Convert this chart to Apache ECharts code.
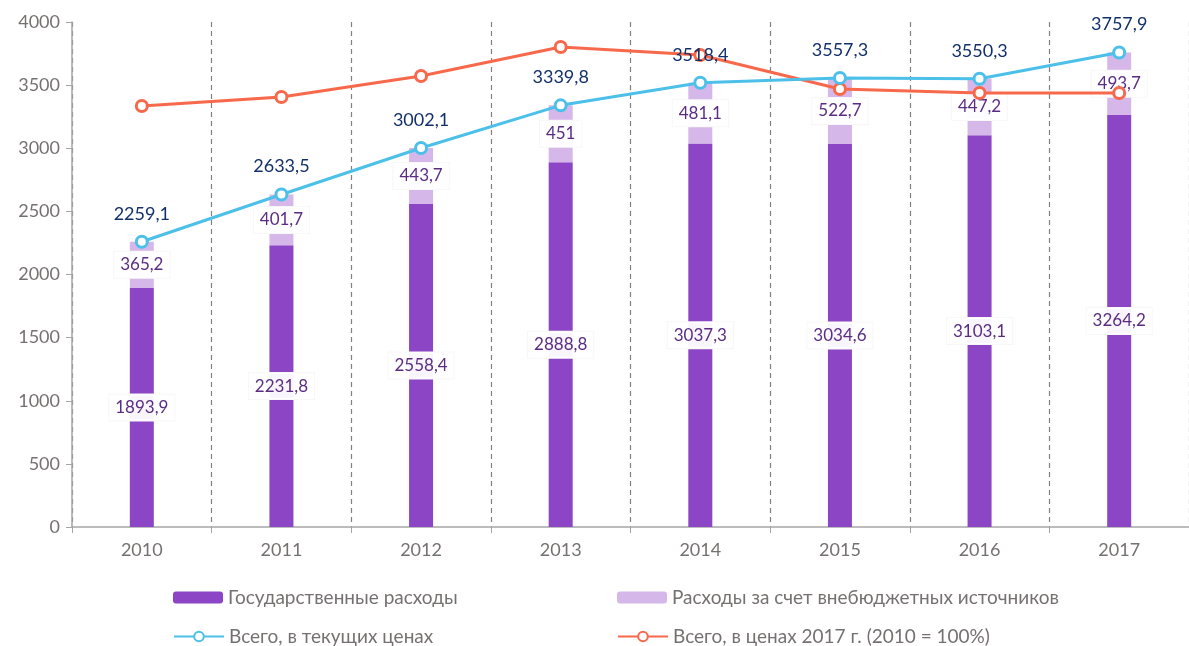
<!DOCTYPE html>
<html>
    <head>
        <meta charset="utf-8">
        <script src="https://cdn.jsdelivr.net/npm/echarts@6/dist/echarts.min.js"></script>
        <style>
            html, body { margin: 0; padding: 0; background: #fff; }
            #main { width: 1189px; height: 646px; }
        </style>
    </head>
    <body>
        <div id="main"></div>
        <script>
            var years = ['2010', '2011', '2012', '2013', '2014', '2015', '2016', '2017'];
            var govSpend = [1893.9, 2231.8, 2558.4, 2888.8, 3037.3, 3034.6, 3103.1, 3264.2];
            var extraSpend = [365.2, 401.7, 443.7, 451, 481.1, 522.7, 447.2, 493.7];
            var totalCurrent = [2259.1, 2633.5, 3002.1, 3339.8, 3518.4, 3557.3, 3550.3, 3757.9];
            var total2017 = [3335, 3406, 3572, 3802, 3739, 3469, 3438, 3438];

            var names = [
                'Государственные расходы',
                'Расходы за счет внебюджетных источников',
                'Всего, в текущих ценах',
                'Всего, в ценах 2017 г. (2010 = 100%)'
            ];

            var FONT = 'Lato';
            function fmt(p) { return String(p.value).replace('.', ','); }

            var barLabel = {
                show: true,
                position: 'inside',
                formatter: fmt,
                color: '#5a2d82',
                fontFamily: FONT,
                fontSize: 17,
                backgroundColor: 'rgba(255,255,255,0.95)',
                borderColor: '#f7f7f7',
                borderWidth: 1,
                padding: [5, 6, 4, 6]
            };

            // one legend per item so they sit in a 2x2 layout
            function leg(name, left, top) {
                return {
                    left: left, top: top,
                    itemWidth: 50, itemHeight: 12,
                    textStyle: { color: '#767171', fontFamily: FONT, fontSize: 19 },
                    data: [name]
                };
            }

            var chart = echarts.init(document.getElementById('main'));
            chart.setOption({
                animation: false,
                grid: { left: 72, top: 22, width: 1128, bottom: 119 },
                legend: [
                    leg(names[0], 168, 583),
                    leg(names[1], 612, 583),
                    leg(names[2], 168, 622),
                    leg(names[3], 612, 622)
                ],
                xAxis: {
                    type: 'category',
                    data: years,
                    axisLine: { lineStyle: { color: '#a6a6a6', width: 1.5 } },
                    axisTick: { show: true, length: 6, lineStyle: { color: '#a6a6a6' } },
                    axisLabel: { color: '#767171', fontFamily: FONT, fontSize: 18, margin: 14 },
                    splitLine: { show: true, lineStyle: { color: '#808080', type: [5, 4], width: 1.2 } }
                },
                yAxis: {
                    type: 'value',
                    min: 0, max: 4000, interval: 500,
                    axisLine: { show: true, lineStyle: { color: '#a6a6a6', width: 1.5 } },
                    axisTick: { show: true, length: 6, lineStyle: { color: '#a6a6a6' } },
                    axisLabel: {
                        color: '#767171', fontFamily: FONT, fontSize: 18, margin: 12,
                        formatter: function (v) { return String(v); }
                    },
                    splitLine: { show: false }
                },
                series: [
                    {
                        name: names[0],
                        type: 'bar',
                        stack: 'sum',
                        barWidth: 24,
                        itemStyle: { color: '#8b45c5' },
                        label: barLabel,
                        data: govSpend
                    },
                    {
                        name: names[1],
                        type: 'bar',
                        stack: 'sum',
                        barWidth: 24,
                        itemStyle: { color: '#d5b8e9' },
                        label: barLabel,
                        data: extraSpend
                    },
                    {
                        name: names[2],
                        type: 'line',
                        z: 5,
                        symbol: 'circle',
                        symbolSize: 11,
                        itemStyle: { color: '#fff', borderColor: '#4cc0e9', borderWidth: 3 },
                        lineStyle: { color: '#4cc0e9', width: 3 },
                        label: {
                            show: true,
                            position: 'top',
                            distance: 12,
                            formatter: fmt,
                            color: '#12306a',
                            fontFamily: FONT,
                            fontSize: 18
                        },
                        data: totalCurrent
                    },
                    {
                        name: names[3],
                        type: 'line',
                        z: 4,
                        symbol: 'circle',
                        symbolSize: 11,
                        itemStyle: { color: '#fff', borderColor: '#f7694a', borderWidth: 3 },
                        lineStyle: { color: '#f7694a', width: 3 },
                        data: total2017
                    }
                ]
            });
        </script>
    </body>
</html>
